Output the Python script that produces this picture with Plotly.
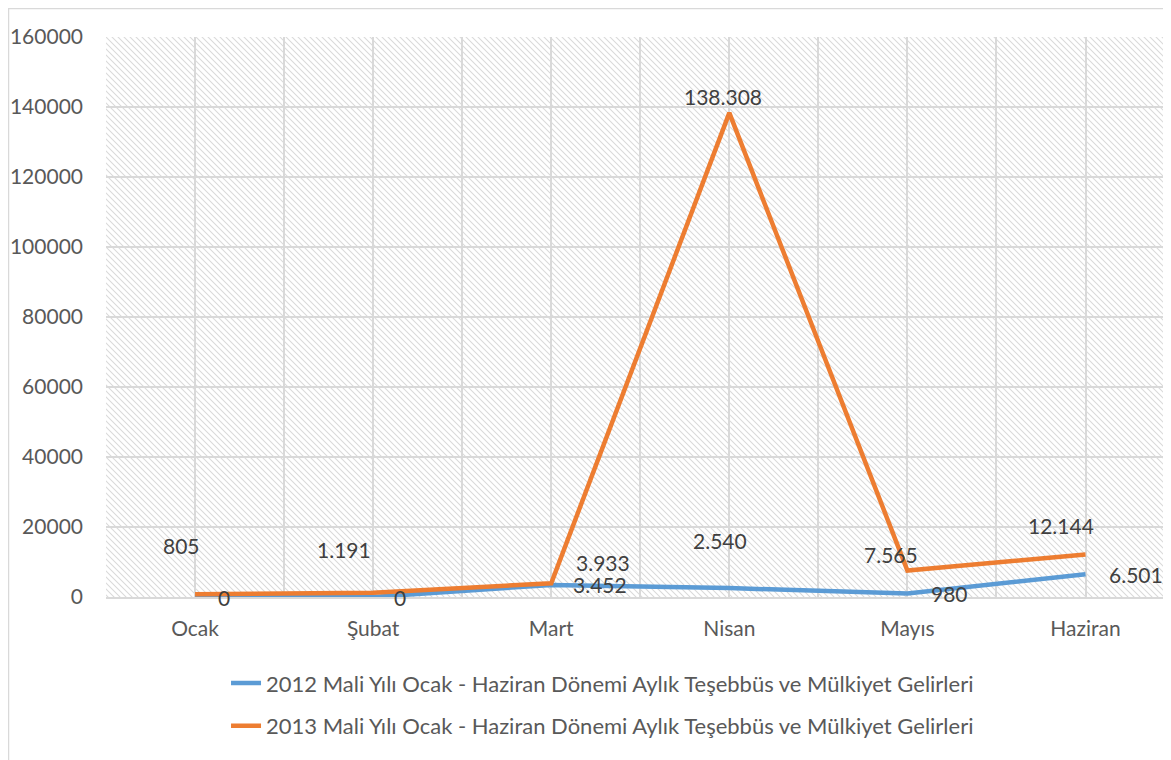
import base64
import plotly.graph_objects as go

months = ["Ocak", "Şubat", "Mart", "Nisan", "Mayıs", "Haziran"]
gelir_2012 = [0, 0, 3452, 2540, 980, 6501]
gelir_2013 = [805, 1191, 3933, 138308, 7565, 12144]
name_2012 = "2012 Mali Yılı Ocak - Haziran Dönemi Aylık Teşebbüs ve Mülkiyet Gelirleri"
name_2013 = "2013 Mali Yılı Ocak - Haziran Dönemi Aylık Teşebbüs ve Mülkiyet Gelirleri"

# label offsets in px (x, y), as placed in the original
shift_2012 = [(29, 0), (27, 0), (49, 0), (-9, 48), (42, 0), (50, 0)]
shift_2013 = [(-14, 49), (-29, 43), (52, 21), (-6, 16), (-16, 16), (-25, 29)]

FONT = "Lato"
BLUE = "#5B9BD5"
ORANGE = "#ED7D31"
GRID = "#d9d9d9"

# page body has an 8px margin, so the figure is sized to end at the window edge
W, H = 1163, 752
PLOT_W = 1065


def fmt(v):
    return f"{v:,}".replace(",", ".")


def hatch_uri(w, h, step=6):
    svg = (
        f'<svg xmlns="http://www.w3.org/2000/svg" width="{w}" height="{h}">'
        f'<defs><pattern id="p" patternUnits="userSpaceOnUse" width="{step}" height="{step}">'
        f'<path d="M0,0 L{step},{step} M-1,{step-1} L1,{step+1} M{step-1},-1 L{step+1},1" '
        f'stroke="#dadada" stroke-width="1.1"/></pattern></defs>'
        f'<rect width="{w}" height="{h}" fill="white"/>'
        f'<rect width="{w}" height="{h}" fill="url(#p)"/></svg>'
    )
    return "data:image/svg+xml;base64," + base64.b64encode(svg.encode()).decode()


xs = list(range(len(months)))

fig = go.Figure()
fig.add_trace(go.Scatter(x=xs, y=gelir_2012, mode="lines", name=name_2012,
                         legendgroup="a", line=dict(color=BLUE, width=4.5)))
fig.add_trace(go.Scatter(x=xs, y=gelir_2013, mode="lines", name=name_2013,
                         legendgroup="b", line=dict(color=ORANGE, width=4.5)))

for vals, shifts in [(gelir_2012, shift_2012), (gelir_2013, shift_2013)]:
    for i, v in enumerate(vals):
        fig.add_annotation(x=xs[i], y=v, text=fmt(v), showarrow=False,
                           xshift=shifts[i][0], yshift=shifts[i][1],
                           font=dict(family=FONT, size=21, color="#404040"))

fig.add_layout_image(source=hatch_uri(PLOT_W, 560), xref="paper", yref="paper",
                     x=0, y=1, sizex=1, sizey=1, sizing="stretch",
                     xanchor="left", yanchor="top", layer="below")

# outer chart frame
fig.add_shape(type="rect", xref="paper", yref="paper",
              x0=-97.5 / PLOT_W, x1=1.05, y0=-0.4, y1=1 + 28.5 / 560,
              line=dict(color=GRID, width=1.5), layer="below")

fig.update_layout(
    width=W, height=H,
    margin=dict(l=98, r=0, t=29, b=163),
    paper_bgcolor="white", plot_bgcolor="white",
    font=dict(family=FONT, size=21, color="#595959"),
    showlegend=True,
    legend=dict(orientation="v", x=0.1127, xanchor="left", y=-0.1166, yanchor="top",
                traceorder="grouped", tracegroupgap=11,
                font=dict(family=FONT, size=22, color="#595959")),
)
fig.update_xaxes(range=[-0.5, 5.48], tickvals=xs, ticktext=months,
                 showgrid=True, gridcolor=GRID, gridwidth=1.5,
                 minor=dict(tick0=-0.5, dtick=1, showgrid=True, gridcolor=GRID, gridwidth=1.5),
                 showline=True, linecolor=GRID, linewidth=2,
                 ticks="", ticklabelstandoff=12, zeroline=False)
fig.update_yaxes(range=[0, 160000], dtick=20000, tickformat="d",
                 showgrid=True, gridcolor=GRID, gridwidth=1.5,
                 ticks="", ticklabelstandoff=22, zeroline=False, showline=False)

fig.write_html("out.html")
